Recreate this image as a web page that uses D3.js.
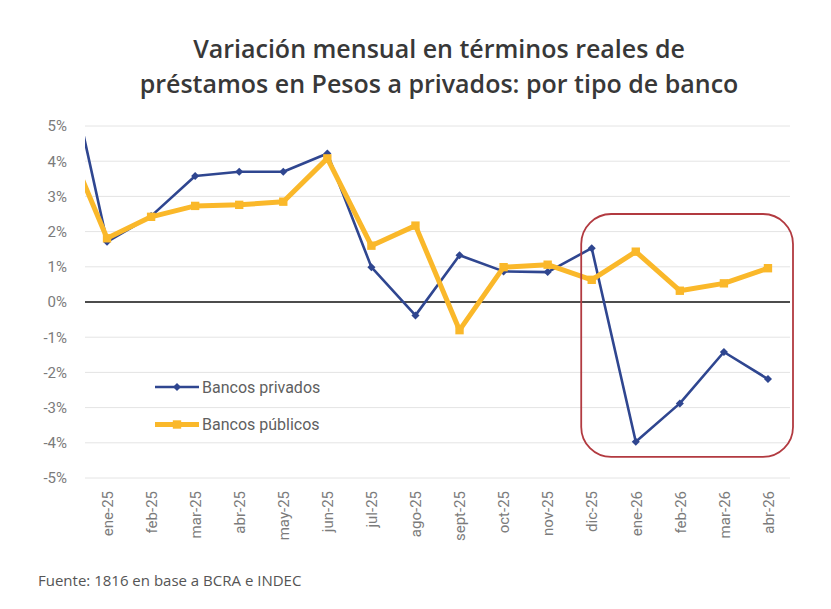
<!DOCTYPE html>
<html>
<head>
<meta charset="utf-8">
<script src="https://cdn.jsdelivr.net/npm/d3@7"></script>
<style>
  body { margin: 0; background: #fff; }
  svg { display: block; }
</style>
</head>
<body>
<div id="chart"></div>
<script>
// months shown on the axis; "dic-24" is only half visible at the left edge (cropped in the original)
const prevMonth = "dic-24";
const months = ["ene-25","feb-25","mar-25","abr-25","may-25","jun-25","jul-25","ago-25",
                "sept-25","oct-25","nov-25","dic-25","ene-26","feb-26","mar-26","abr-26"];
const allMonths = [prevMonth].concat(months);

// % monthly real variation (first value = dic-24)
const privados = [7.4, 1.71, 2.44, 3.58, 3.70, 3.70, 4.22, 0.99, -0.38, 1.33, 0.87, 0.85, 1.53, -3.97, -2.88, -1.42, -2.19];
const publicos = [4.8, 1.81, 2.42, 2.73, 2.76, 2.85, 4.08, 1.60, 2.17, -0.80, 0.99, 1.06, 0.63, 1.43, 0.32, 0.53, 0.96];

const yTicks = [-5,-4,-3,-2,-1,0,1,2,3,4,5];
const seriesNames = ["Bancos privados", "Bancos públicos"];

const titleLines = ["Variación mensual en términos reales de",
                    "préstamos en Pesos a privados: por tipo de banco"];
const source = "Fuente: 1816 en base a BCRA e INDEC";

// highlighted period
const boxFrom = "dic-25", boxTop = 2.5, boxBottom = -4.4;

const W = 831, H = 609;
const plot = {left: 85, right: 790, top: 126, bottom: 478};

const svg = d3.select("#chart").append("svg")
  .attr("width", W).attr("height", H);

// titles
svg.append("g").selectAll("text")
  .data(titleLines).enter()
  .append("text")
    .attr("x", 439)
    .attr("y", (d,i) => 58 + i*35)
    .attr("text-anchor", "middle")
    .style("font-family", "'Open Sans', sans-serif")
    .style("font-size", "25px")
    .style("font-weight", 600)
    .style("fill", "#383838")
    .text(d => d);

// x: one band per month, plus one band before the plot for the cropped point
const step = (plot.right - plot.left) / months.length;
const x = d3.scalePoint()
  .domain(allMonths)
  .range([plot.left - step/2, plot.right - step/2]);

const y = d3.scaleLinear()
  .domain([-5, 5])
  .range([plot.bottom, plot.top]);

// gridlines
svg.append("g").selectAll("line")
  .data(yTicks.filter(d => d !== 0)).enter()
  .append("line")
    .attr("x1", plot.left).attr("x2", plot.right)
    .attr("y1", d => y(d)).attr("y2", d => y(d))
    .style("stroke", "#e4e4e4")
    .style("stroke-width", 1);

// y axis labels
const yAxis = svg.append("g")
  .attr("transform", "translate(" + (plot.left - 18) + ",0)")
  .call(d3.axisLeft(y).tickValues(yTicks).tickFormat(d => d + "%").tickSize(0).tickPadding(0));
yAxis.select(".domain").remove();
yAxis.selectAll("text")
  .style("font-family", "Roboto, sans-serif")
  .style("font-size", "15px")
  .style("fill", "#7b7b7b");

// x axis labels (rotated)
const xAxis = svg.append("g")
  .attr("transform", "translate(0," + (plot.bottom + 13) + ")")
  .call(d3.axisBottom(x).tickValues(months).tickSize(0).tickPadding(0));
xAxis.select(".domain").remove();
xAxis.selectAll("text")
  .attr("transform", "rotate(-90)")
  .attr("text-anchor", "end")
  .attr("x", 0).attr("y", 0).attr("dy", "0.35em")
  .style("font-family", "Roboto, sans-serif")
  .style("font-size", "15px")
  .style("fill", "#7b7b7b");

// zero line
svg.append("line")
  .attr("x1", plot.left).attr("x2", plot.right)
  .attr("y1", y(0)).attr("y2", y(0))
  .style("stroke", "#111")
  .style("stroke-width", 1.6);

// clip to the plot area
svg.append("clipPath").attr("id", "plotclip")
  .append("rect")
    .attr("x", plot.left).attr("y", 0)
    .attr("width", plot.right - plot.left).attr("height", H);

const lineGen = d3.line()
  .x((d,i) => x(allMonths[i]))
  .y(d => y(d));

const blue = "#2f4690", yellow = "#fab82a";

const g = svg.append("g").attr("clip-path", "url(#plotclip)");

// Bancos privados
g.append("path")
  .datum(privados)
  .attr("d", lineGen)
  .style("fill", "none")
  .style("stroke", blue)
  .style("stroke-width", 2.6)
  .style("stroke-linejoin", "round");

g.selectAll(".dpriv")
  .data(privados).enter()
  .append("path")
    .attr("class", "dpriv")
    .attr("d", d3.symbol().type(d3.symbolSquare).size(32))
    .attr("transform", (d,i) => "translate(" + x(allMonths[i]) + "," + y(d) + ") rotate(45)")
    .style("fill", blue);

// Bancos públicos
g.append("path")
  .datum(publicos)
  .attr("d", lineGen)
  .style("fill", "none")
  .style("stroke", yellow)
  .style("stroke-width", 5)
  .style("stroke-linejoin", "round");

g.selectAll(".dpub")
  .data(publicos).enter()
  .append("path")
    .attr("class", "dpub")
    .attr("d", d3.symbol().type(d3.symbolSquare).size(70))
    .attr("transform", (d,i) => "translate(" + x(allMonths[i]) + "," + y(d) + ")")
    .style("fill", yellow);

// red highlight box
svg.append("rect")
  .attr("x", x(boxFrom) - 10.5)
  .attr("y", y(boxTop))
  .attr("width", plot.right + 3 - (x(boxFrom) - 10.5))
  .attr("height", y(boxBottom) - y(boxTop))
  .attr("rx", 30).attr("ry", 30)
  .style("fill", "none")
  .style("stroke", "#b23a40")
  .style("stroke-width", 1.8);

// legend
const legend = svg.append("g").attr("transform", "translate(155,387)");
const legendItems = [
  {name: seriesNames[0], color: blue, width: 2.6, sym: d3.symbolSquare, size: 32, rot: 45},
  {name: seriesNames[1], color: yellow, width: 5, sym: d3.symbolSquare, size: 70, rot: 0}
];
const li = legend.selectAll("g")
  .data(legendItems).enter()
  .append("g")
    .attr("transform", (d,i) => "translate(0," + i*37.5 + ")");
li.append("line")
  .attr("x1", 0).attr("x2", 44)
  .style("stroke", d => d.color)
  .style("stroke-width", d => d.width);
li.append("path")
  .attr("d", d => d3.symbol().type(d.sym).size(d.size)())
  .attr("transform", d => "translate(22,0) rotate(" + d.rot + ")")
  .style("fill", d => d.color);
li.append("text")
  .attr("x", 47).attr("dy", "0.35em")
  .style("font-family", "Roboto, sans-serif")
  .style("font-size", "16px")
  .style("fill", "#5f5f5f")
  .text(d => d.name);

// source
svg.append("text")
  .attr("x", 38).attr("y", 586)
  .style("font-family", "'Open Sans', sans-serif")
  .style("font-size", "15px")
  .style("fill", "#555")
  .text(source);
</script>
</body>
</html>
